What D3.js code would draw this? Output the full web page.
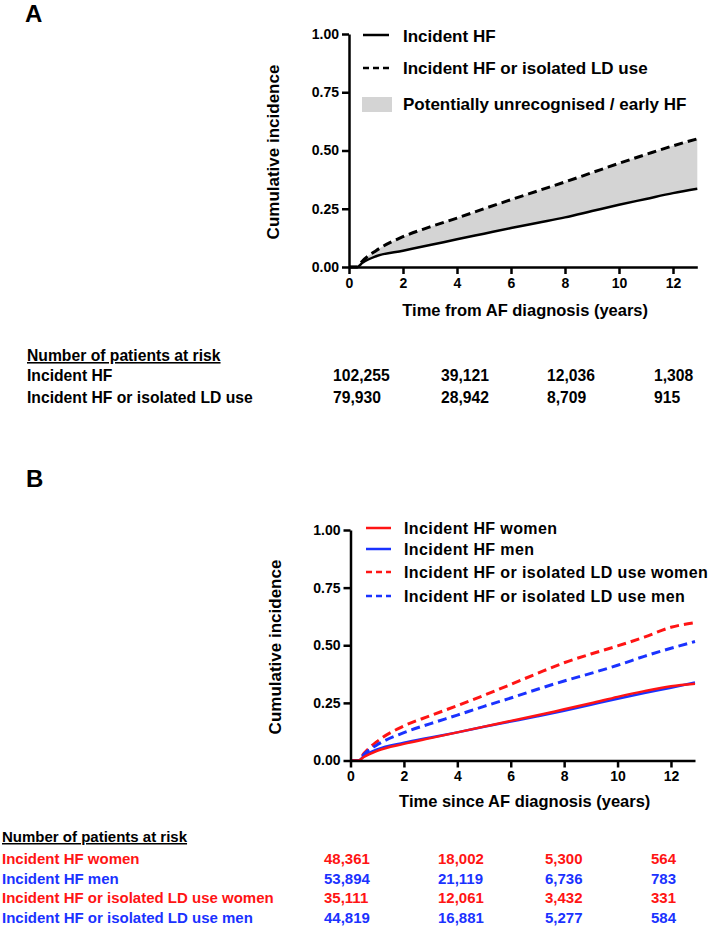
<!DOCTYPE html>
<html>
<head>
<meta charset="utf-8">
<script src="https://cdn.jsdelivr.net/npm/d3@7"></script>
<style>
  body { margin: 0; background: #fff; }
  svg text { font-family: "Liberation Sans", Arial, sans-serif; font-weight: bold; }
</style>
</head>
<body>
<div id="graph_here"></div>
<script>
// time points (years) used for all curves
const years = [0, 0.3, 0.5, 1, 2, 3, 4, 5, 6, 7, 8, 9, 10, 11, 12, 12.9];

// panel A
const hfA      = [0, 0, 0.018, 0.046, 0.070, 0.094, 0.119, 0.143, 0.167, 0.190, 0.213, 0.240, 0.267, 0.292, 0.317, 0.336];
const hfOrLdA  = [0, 0, 0.026, 0.070, 0.130, 0.172, 0.210, 0.250, 0.289, 0.327, 0.365, 0.405, 0.445, 0.483, 0.520, 0.550];

// panel B
const hfWomen     = [0, 0, 0.015, 0.042, 0.072, 0.097, 0.122, 0.147, 0.172, 0.196, 0.222, 0.248, 0.276, 0.301, 0.322, 0.333];
const hfMen       = [0, 0, 0.019, 0.048, 0.077, 0.100, 0.122, 0.146, 0.169, 0.192, 0.216, 0.242, 0.268, 0.293, 0.316, 0.338];
const hfLdWomen   = [0, 0, 0.030, 0.083, 0.150, 0.195, 0.238, 0.283, 0.330, 0.378, 0.424, 0.462, 0.497, 0.535, 0.578, 0.598];
const hfLdMen     = [0, 0, 0.026, 0.068, 0.121, 0.160, 0.197, 0.235, 0.271, 0.309, 0.345, 0.378, 0.413, 0.452, 0.487, 0.516];

const xTicks = [0, 2, 4, 6, 8, 10, 12];
const yTicks = [0, 0.25, 0.5, 0.75, 1];

// at-risk tables
const riskLabelsA = ["Incident HF", "Incident HF or isolated LD use"];
const riskA = [
  ["102,255", "39,121", "12,036", "1,308"],
  ["79,930", "28,942", "8,709", "915"]
];
const riskLabelsB = ["Incident HF women", "Incident HF men", "Incident HF or isolated LD use women", "Incident HF or isolated LD use men"];
const riskB = [
  ["48,361", "18,002", "5,300", "564"],
  ["53,894", "21,119", "6,736", "783"],
  ["35,111", "12,061", "3,432", "331"],
  ["44,819", "16,881", "5,277", "584"]
];

const RED = "#ff1414";
const BLUE = "#1a32ff";

const width = 709, height = 926;
const svg = d3.select('#graph_here').append('svg')
  .attr('width', width).attr('height', height);

function drawAxes(x, y, yTitleY, xTitle, xTitleY) {
  const xAxis = d3.axisBottom(x).tickValues(xTicks).tickSize(7).tickSizeOuter(0).tickPadding(4);
  const yAxis = d3.axisLeft(y).tickValues(yTicks).tickFormat(d3.format(".2f")).tickSize(7).tickSizeOuter(0).tickPadding(3);

  const gx = svg.append('g').attr('transform', 'translate(0,' + y(0) + ')').call(xAxis);
  const gy = svg.append('g').attr('transform', 'translate(' + x(0) + ',0)').call(yAxis);
  [gx, gy].forEach(g => {
    g.select('.domain').attr('stroke', '#000').attr('stroke-width', 2.5);
    g.selectAll('.tick line').attr('stroke', '#000').attr('stroke-width', 2.5);
    g.selectAll('.tick text').attr('fill', '#000').style('font-size', '14px');
  });

  svg.append('text')
    .attr('transform', 'translate(' + (x(0) - 70) + ',' + yTitleY + ') rotate(-90)')
    .attr('text-anchor', 'middle')
    .style('font-size', '17px')
    .text('Cumulative incidence');

  svg.append('text')
    .attr('x', (x(0) + x(12.9)) / 2 + 2)
    .attr('y', xTitleY)
    .attr('text-anchor', 'middle')
    .style('font-size', '16.5px')
    .text(xTitle);
}

function curve(x, y, vals) {
  return d3.line()
    .x((d, i) => x(years[i]))
    .y(d => y(d))
    .curve(d3.curveMonotoneX)(vals);
}

// ---------- panel A ----------
const xA = d3.scaleLinear().domain([0, 12.9]).range([349, 697.3]);
const yA = d3.scaleLinear().domain([0, 1]).range([267, 34]);

svg.append('text').attr('x', 25).attr('y', 22).style('font-size', '24px').text('A');

svg.append('path')
  .attr('d', d3.area()
    .x((d, i) => xA(years[i]))
    .y0((d, i) => yA(hfA[i]))
    .y1(d => yA(d))
    .curve(d3.curveMonotoneX)(hfOrLdA))
  .attr('fill', '#d4d4d4');

svg.append('path').attr('d', curve(xA, yA, hfOrLdA))
  .attr('fill', 'none').attr('stroke', '#000').attr('stroke-width', 3)
  .attr('stroke-dasharray', '9,5');
svg.append('path').attr('d', curve(xA, yA, hfA))
  .attr('fill', 'none').attr('stroke', '#000').attr('stroke-width', 2.5);

drawAxes(xA, yA, 152, 'Time from AF diagnosis (years)', 316);

// legend A
const legA = svg.append('g');
legA.append('line').attr('x1', 363).attr('x2', 389).attr('y1', 35).attr('y2', 35)
  .attr('stroke', '#000').attr('stroke-width', 2.5);
legA.append('line').attr('x1', 363).attr('x2', 389).attr('y1', 68).attr('y2', 68)
  .attr('stroke', '#000').attr('stroke-width', 2.5).attr('stroke-dasharray', '6,4');
legA.append('rect').attr('x', 362).attr('y', 97).attr('width', 30).attr('height', 15)
  .attr('fill', '#d4d4d4');
['Incident HF', 'Incident HF or isolated LD use', 'Potentially unrecognised / early HF'].forEach((t, i) => {
  legA.append('text').attr('x', 403).attr('y', [42, 74, 110][i])
    .style('font-size', '17px').text(t);
});

// table A
const colA = [333, 441, 547, 654];
svg.append('text').attr('x', 27).attr('y', 361)
  .style('font-size', '15.7px').style('text-decoration', 'underline')
  .text('Number of patients at risk');
riskLabelsA.forEach((lab, r) => {
  const yy = [381, 403][r];
  svg.append('text').attr('x', 27).attr('y', yy).style('font-size', '15.7px').text(lab);
  riskA[r].forEach((v, c) => {
    svg.append('text').attr('x', colA[c]).attr('y', yy).style('font-size', '15.7px').text(v);
  });
});

// ---------- panel B ----------
const xB = d3.scaleLinear().domain([0, 12.9]).range([350.5, 695]);
const yB = d3.scaleLinear().domain([0, 1]).range([760.5, 530]);

svg.append('text').attr('x', 26).attr('y', 487).style('font-size', '24px').text('B');

const seriesB = [
  { vals: hfLdWomen, color: RED, dash: '9,5', name: 'Incident HF or isolated LD use women' },
  { vals: hfLdMen, color: BLUE, dash: '9,5', name: 'Incident HF or isolated LD use men' },
  { vals: hfMen, color: BLUE, dash: null, name: 'Incident HF men' },
  { vals: hfWomen, color: RED, dash: null, name: 'Incident HF women' }
];
seriesB.forEach(s => {
  svg.append('path').attr('d', curve(xB, yB, s.vals))
    .attr('fill', 'none').attr('stroke', s.color)
    .attr('stroke-width', s.dash ? 3 : 2.5)
    .attr('stroke-dasharray', s.dash);
});

drawAxes(xB, yB, 647, 'Time since AF diagnosis (years)', 807);

// legend B
const legB = [
  { name: 'Incident HF women', color: RED, dash: null },
  { name: 'Incident HF men', color: BLUE, dash: null },
  { name: 'Incident HF or isolated LD use women', color: RED, dash: '6,4' },
  { name: 'Incident HF or isolated LD use men', color: BLUE, dash: '6,4' }
];
const legBy = [528, 549, 572, 596];
legB.forEach((d, i) => {
  svg.append('line').attr('x1', 366).attr('x2', 391).attr('y1', legBy[i]).attr('y2', legBy[i])
    .attr('stroke', d.color).attr('stroke-width', 2.5).attr('stroke-dasharray', d.dash);
  svg.append('text').attr('x', 404).attr('y', legBy[i] + 6)
    .style('font-size', '16px').style('letter-spacing', '0.4px').text(d.name);
});

// table B
const colB = [324, 438, 545, 651];
const rowColors = [RED, BLUE, RED, BLUE];
svg.append('text').attr('x', 2).attr('y', 842)
  .style('font-size', '15px').style('text-decoration', 'underline')
  .text('Number of patients at risk');
riskLabelsB.forEach((lab, r) => {
  const yy = [864, 883.5, 903, 922.5][r];
  svg.append('text').attr('x', 2).attr('y', yy).attr('fill', rowColors[r])
    .style('font-size', '15px').text(lab);
  riskB[r].forEach((v, c) => {
    svg.append('text').attr('x', colB[c]).attr('y', yy).attr('fill', rowColors[r])
      .style('font-size', '15px').text(v);
  });
});
</script>
</body>
</html>
